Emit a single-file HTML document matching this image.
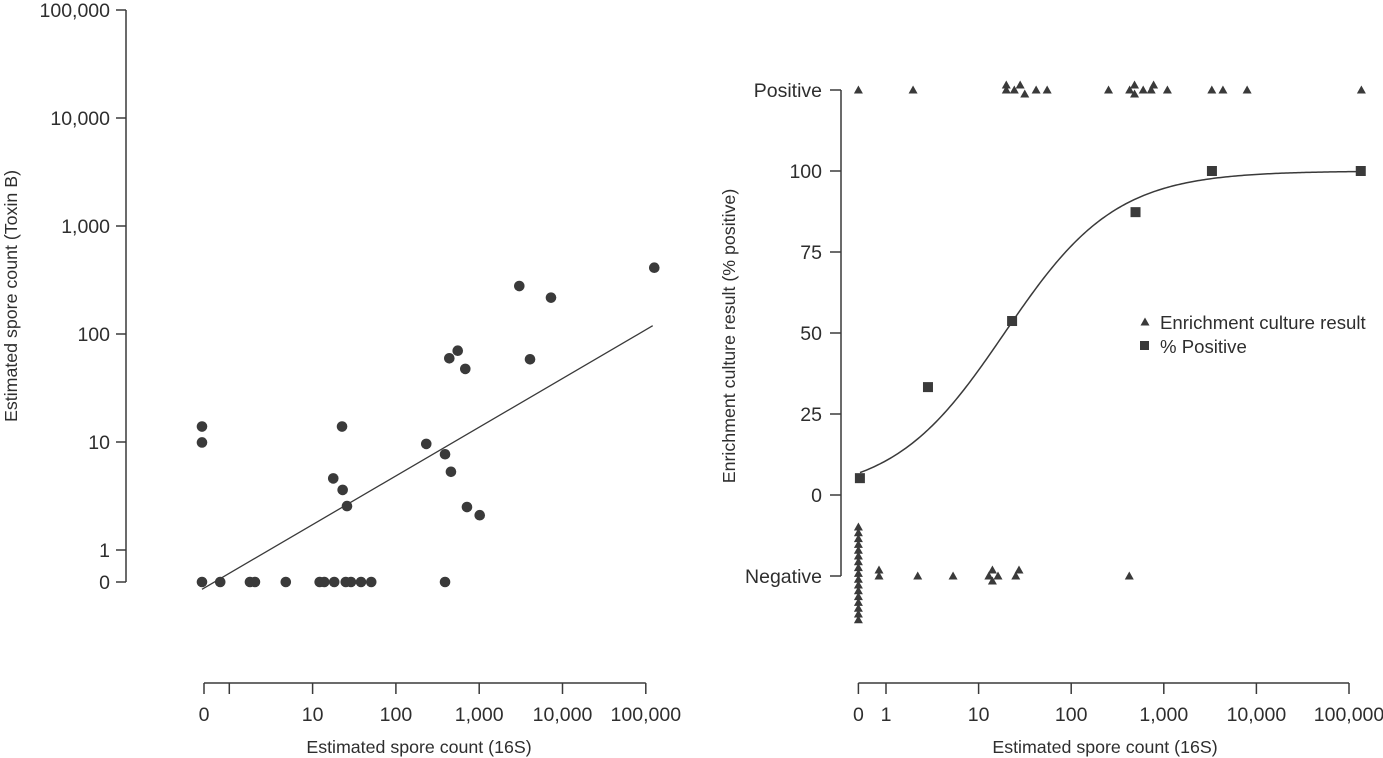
<!DOCTYPE html>
<html><head><meta charset="utf-8"><style>
body{margin:0;background:#fff;}
svg{display:block;font-family:"Liberation Sans",Arial,sans-serif;}
text{fill:#2e2e2e;font-size:19.5px;}
text.title{font-size:17.8px;}
text.legend{font-size:18.6px;}
</style></head><body>
<svg id="chart" width="1383" height="758" viewBox="0 0 1383 758">
<g id="left"></g>
<g id="right"></g>
</svg>
<script>
// ---------- Left chart data ----------
const leftX = [0,0,0,0.80,1.82,2.09,4.9,12.5,14.2,18.7,25.7,29.7,39.2,52,400,
  23.2,18.2,23.6,26.6,238,400,471,733,1043,3115,7480,130000,568,450,700,4190];
const leftY = [13.9,9.9,0,0,0,0,0,0,0,0,0,0,0,0,0,
  13.9,4.6,3.6,2.55,9.6,7.7,5.3,2.5,2.1,278,217,411,70,59.6,47.5,58.3];
const leftXTicks = [0,1,10,100,1000,10000,100000];
const leftXTickLabels = ["0","","10","100","1,000","10,000","100,000"];
const leftYTicks = [0,1,10,100,1000,10000,100000];
const leftYTickLabels = ["0","1","10","100","1,000","10,000","100,000"];
const fitIntercept = -0.216, fitSlope = 0.451, fitFrom = -0.328, fitTo = 5.083;

// ---------- Right chart data ----------
const posX = [0,1.96,19.9,19.9,24.3,28.1,31.5,41.8,55,253,428,483,483,599,731,776,1094,3300,4350,7940,136000];
const posJitter = [0,0,0,-5,0,-5,4,0,0,0,0,-5,4,0,0,-5,0,0,0,0,0];
const negX = [0.84,0.84,2.2,5.3,12.9,14.1,14.1,16.2,25.2,27.3,424];
const negJitter = [-6,0,0,0,0,-6,5,0,0,-6,0];
const negZeroCount = 17;
const pctX = [0,2.84,23,495,3310,134000];
const pctY = [5.2,33.3,53.7,87.3,100,100];
const curveMid = 1.28, curveScale = 0.6;
const rightXTicks = [0,1,10,100,1000,10000,100000];
const rightXTickLabels = ["0","1","10","100","1,000","10,000","100,000"];
const rightYTicks = [0,25,50,75,100];

const NS="http://www.w3.org/2000/svg";
function mk(parent,tag,attrs,txt){const e=document.createElementNS(NS,tag);for(const k in attrs)e.setAttribute(k,attrs[k]);if(txt!==undefined)e.textContent=txt;parent.appendChild(e);return e;}
const INK="#3a3a3a";

// ---- left scales
const lx = v => v<=0 ? 203 : 229.3 + 83.3*Math.log10(v);
const ly = v => v<=0 ? 582 : 550 - 108*Math.log10(v);
const L=document.getElementById('left');
let e;
e=mk(L,'line',{x1:126,y1:10,x2:126,y2:582,stroke:INK,'stroke-width':1.5});


leftYTicks.forEach((t,i)=>{
  e=mk(L,'line',{x1:116,y1:ly(t),x2:126,y2:ly(t),stroke:INK,'stroke-width':1.5});
  
  
  e=mk(L,'text',{x:110,y:ly(t)+7,'text-anchor':'end'},leftYTickLabels[i]);
  
  
});
e=mk(L,'line',{x1:204,y1:683,x2:lx(100000),y2:683,stroke:INK,'stroke-width':1.5});


leftXTicks.forEach((t,i)=>{
  const x = t===0 ? 204 : lx(t);
  e=mk(L,'line',{x1:x,y1:683,x2:x,y2:694,stroke:INK,'stroke-width':1.5});
  
  
  if(leftXTickLabels[i]){
    e=mk(L,'text',{x:x,y:721,'text-anchor':'middle'},leftXTickLabels[i]);
    
    
  }
});
e=mk(L,'text',{x:419,y:753,'text-anchor':'middle','class':'title'},'Estimated spore count (16S)');


e=mk(L,'text',{x:0,y:0,'text-anchor':'middle','class':'title',transform:'translate(17,296) rotate(-90)'},'Estimated spore count (Toxin B)');


const fx1=229.3+83.3*fitFrom, fx2=229.3+83.3*fitTo;
e=mk(L,'line',{x1:fx1,y1:550-108*(fitIntercept+fitSlope*fitFrom),x2:fx2,y2:550-108*(fitIntercept+fitSlope*fitTo),stroke:INK,'stroke-width':1.3});


leftX.forEach((v,i)=>{
  e=mk(L,'circle',{cx:lx(v)-1,cy:ly(leftY[i]),r:5.3,fill:INK});
  
  
});

// ---- right scales
const rx = v => v<=0 ? 858.4 : 886 + 92.6*Math.log10(v);
const ry = p => 495 - 3.24*p;
const POSY=90, NEGY=576;
const R=document.getElementById('right');
function tri(x,y,name){
  const t=mk(R,'path',{d:`M${x} ${y-4.5}L${x+4.5} ${y+3.5}L${x-4.5} ${y+3.5}Z`,fill:INK});
  
  
}
e=mk(R,'line',{x1:841,y1:90,x2:841,y2:576,stroke:INK,'stroke-width':1.5});


const yt=[{y:POSY,l:'Positive'}].concat(rightYTicks.slice().reverse().map(t=>({y:ry(t),l:String(t)}))).concat([{y:NEGY,l:'Negative'}]);
yt.forEach(t=>{
  e=mk(R,'line',{x1:830,y1:t.y,x2:841,y2:t.y,stroke:INK,'stroke-width':1.5});
  
  
  e=mk(R,'text',{x:822,y:t.y+7,'text-anchor':'end'},t.l);
  
  
});
e=mk(R,'line',{x1:858.4,y1:683,x2:rx(100000),y2:683,stroke:INK,'stroke-width':1.5});


rightXTicks.forEach((t,i)=>{
  const x=rx(t);
  e=mk(R,'line',{x1:x,y1:683,x2:x,y2:694,stroke:INK,'stroke-width':1.5});
  
  
  e=mk(R,'text',{x:x,y:721,'text-anchor':'middle'},rightXTickLabels[i]);
  
  
});
e=mk(R,'text',{x:1105,y:753,'text-anchor':'middle','class':'title'},'Estimated spore count (16S)');


e=mk(R,'text',{x:0,y:0,'text-anchor':'middle','class':'title',transform:'translate(735,336) rotate(-90)'},'Enrichment culture result (% positive)');


// curve
let d='';
for(let px=860;px<=1361;px+=2){
  const Lg=(px-886)/92.6;
  const p=100/(1+Math.exp(-(Lg-curveMid)/curveScale));
  d+=(d?'L':'M')+px+' '+ry(p).toFixed(2);
}
e=mk(R,'path',{d:d,fill:'none',stroke:INK,'stroke-width':1.5});


posX.forEach((v,i)=>tri(rx(v),POSY+posJitter[i],'positive-result-marker'));
negX.forEach((v,i)=>tri(rx(v),NEGY+negJitter[i],'negative-result-marker'));
for(let k=0;k<negZeroCount;k++) tri(rx(0),527+k*5.8,'negative-zero-marker');
pctX.forEach((v,i)=>{
  e=mk(R,'rect',{x:rx(v)-5+(v<=0?1.5:0),y:ry(pctY[i])-5,width:10,height:10,fill:INK});
  
  
});
// legend
tri(1145,322,'legend-triangle-icon');
e=mk(R,'text',{x:1160,y:329,'class':'legend'},'Enrichment culture result');


e=mk(R,'rect',{x:1140,y:341,width:9,height:9,fill:INK});


e=mk(R,'text',{x:1160,y:353,'class':'legend'},'% Positive');


</script>
</body></html>
